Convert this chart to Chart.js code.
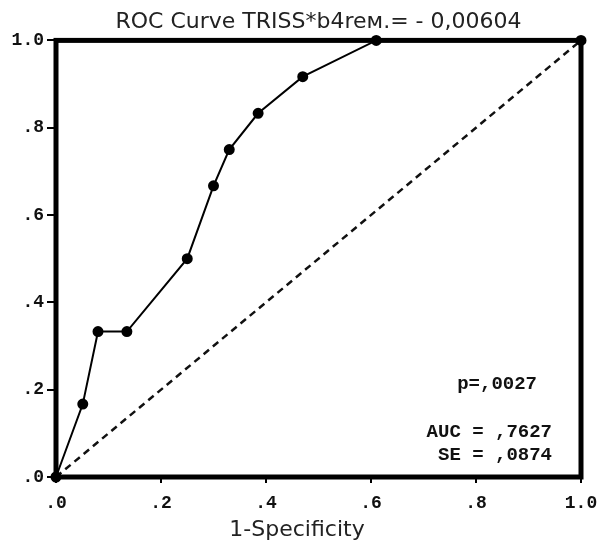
<!DOCTYPE html>
<html><head><meta charset="utf-8">
<script src="https://cdn.jsdelivr.net/npm/chart.js@4.4.1/dist/chart.umd.min.js"></script>
<style>html,body{margin:0;padding:0;background:#fff}#c{display:block}</style>
</head><body>
<canvas id="c" width="608" height="543"></canvas>
<script>
// ---- data ----
const chartTitle = 'ROC Curve TRISS*b4reм.= - 0,00604';
const xAxisTitle = '1-Specificity';
const fpr = [0, 0.051, 0.080, 0.135, 0.250, 0.300, 0.330, 0.385, 0.470, 0.610, 1.0];   // 1-Specificity
const tpr = [0, 0.167, 0.333, 0.333, 0.500, 0.667, 0.750, 0.833, 0.917, 1.000, 1.0];   // Sensitivity
const diagX = [0, 1];
const diagY = [0, 1];
const tickValues = [0, 0.2, 0.4, 0.6, 0.8, 1.0];
const tickLabels = ['.0', '.2', '.4', '.6', '.8', '1.0'];
const statLabels = ['p=,0027', 'AUC = ,7627', 'SE = ,0874'];

const MONO = '"Liberation Mono", "DejaVu Sans Mono", monospace';
const SANS = '"DejaVu Sans", Verdana, sans-serif';

function fmtTick(v) {
  const i = tickValues.findIndex(t => Math.abs(t - v) < 1e-6);
  return i >= 0 ? tickLabels[i] : '';
}

const framePlugin = {
  id: 'frame',
  afterDraw(chart) {
    const {ctx, chartArea: a} = chart;
    ctx.save();
    ctx.strokeStyle = '#000';
    ctx.lineWidth = 5;
    ctx.strokeRect(a.left, a.top, a.right - a.left, a.bottom - a.top);
    // statistics text
    ctx.fillStyle = '#111';
    ctx.font = 'bold 19px ' + MONO;
    ctx.textBaseline = 'middle';
    ctx.textAlign = 'right';
    ctx.fillText(statLabels[0], a.right - 44, 384);
    ctx.fillText(statLabels[1], a.right - 29, 432);
    ctx.fillText(statLabels[2], a.right - 29, 455);
    // x axis title
    ctx.font = '22px ' + SANS;
    ctx.fillStyle = '#222';
    ctx.textAlign = 'center';
    ctx.textBaseline = 'alphabetic';
    ctx.fillText(xAxisTitle, 297, 536);
    ctx.restore();
  }
};

new Chart(document.getElementById('c'), {
  type: 'scatter',
  data: {
    datasets: [
      {
        label: 'ROC',
        data: fpr.map((x, i) => ({x, y: tpr[i]})),
        showLine: true,
        borderColor: '#000',
        backgroundColor: '#000',
        borderWidth: 2,
        pointRadius: 4.5,
        pointHoverRadius: 4.5,
        clip: false
      },
      {
        label: 'Reference',
        data: diagX.map((x, i) => ({x, y: diagY[i]})),
        showLine: true,
        borderColor: '#111',
        borderWidth: 2.5,
        borderDash: [7, 5],
        pointRadius: 0,
        clip: false
      }
    ]
  },
  options: {
    responsive: false,
    animation: false,
    events: [],
    layout: {padding: {left: 0, right: 27, top: 0, bottom: 0}},
    plugins: {
      legend: {display: false},
      tooltip: {enabled: false},
      title: {
        display: true,
        text: chartTitle,
        fullSize: false,
        color: '#222',
        font: {family: SANS, size: 22, weight: 'normal'},
        padding: {top: 9, bottom: 5}
      }
    },
    scales: {
      x: {
        type: 'linear',
        min: 0, max: 1,
        afterBuildTicks: s => { s.ticks = tickValues.map(v => ({value: v})); },
        afterFit: s => { s.height = 66; },
        border: {display: false},
        grid: {drawOnChartArea: false, drawTicks: true, tickLength: 6, color: '#000', lineWidth: 2},
        ticks: {
          callback: v => fmtTick(v),
          color: '#111',
          font: {family: MONO, size: 18, weight: 'bold'},
          padding: 10,
          maxRotation: 0,
          autoSkip: false
        }
      },
      y: {
        type: 'linear',
        min: 0, max: 1,
        afterBuildTicks: s => { s.ticks = tickValues.map(v => ({value: v})); },
        afterFit: s => { s.width = 56; },
        border: {display: false},
        grid: {drawOnChartArea: false, drawTicks: true, tickLength: 9, color: '#000', lineWidth: 2},
        ticks: {
          callback: v => fmtTick(v),
          color: '#111',
          font: {family: MONO, size: 18, weight: 'bold'},
          padding: 3,
          autoSkip: false
        }
      }
    }
  },
  plugins: [framePlugin]
});
</script>
</body></html>
